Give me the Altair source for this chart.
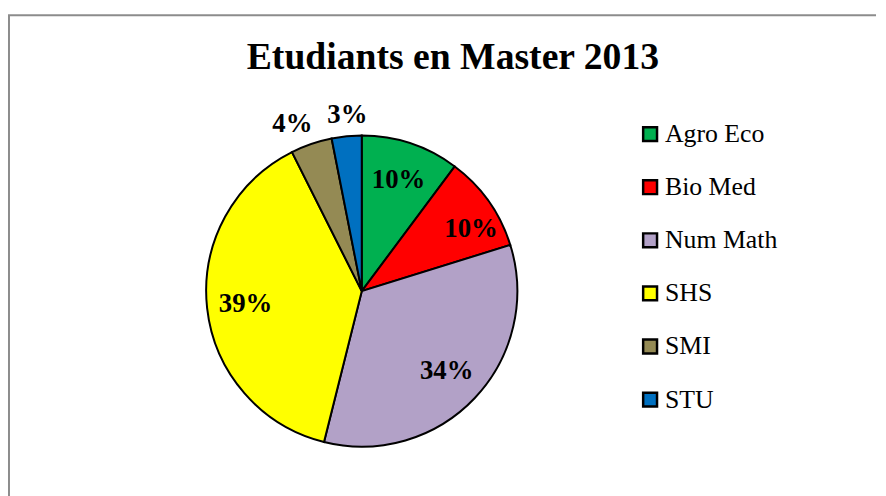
import altair as alt
import pandas as pd

categories = ["Agro Eco", "Bio Med", "Num Math", "SHS", "SMI", "STU"]
shares = [10.2, 10.0, 33.7, 38.7, 4.3, 3.1]
colors = ["#00B050", "#FF0000", "#B2A1C7", "#FFFF00", "#948A54", "#0070C0"]
title_text = "Etudiants en Master 2013"

df = pd.DataFrame({"categorie": categories, "part": shares, "ordre": list(range(len(categories)))})

W, H, PT = 878, 408, 80
CX, CY, R = 357, 203.5, 157
FONT = "Liberation Serif"

base = alt.Chart(df).transform_joinaggregate(
    total="sum(part)"
).transform_calculate(
    pct="round(100 * datum.part / datum.total) + '%'"
).encode(
    theta=alt.Theta("part:Q", stack=True),
    order=alt.Order("ordre:Q"),
)

arcs = base.mark_arc(outerRadius=R, stroke="black", strokeWidth=2).encode(
    color=alt.Color(
        "categorie:N",
        scale=alt.Scale(domain=categories, range=colors),
        sort=categories,
        legend=alt.Legend(
            title=None,
            orient="none",
            legendX=635,
            legendY=32,
            symbolType="square",
            symbolSize=196,
            symbolStrokeColor="black",
            symbolStrokeWidth=2.5,
            labelFont=FONT,
            labelFontSize=26,
            labelColor="black",
            labelOffset=2,
            rowPadding=27.6,
            labelLimit=300,
        ),
    ),
    x=alt.value(CX),
    y=alt.value(CY),
)


def label_layer(cond, radius, dx=0, dy=0):
    return base.transform_calculate(
        lbl=f"({cond}) ? datum.pct : ''"
    ).mark_text(
        radius=radius, dx=dx, dy=dy, font=FONT, fontSize=27, fontWeight="bold", color="black"
    ).encode(text="lbl:N", x=alt.value(CX), y=alt.value(CY))


labels_main = label_layer("datum.part >= 5 && datum.categorie != 'Bio Med'", 118)
labels_bio = label_layer("datum.categorie == 'Bio Med'", 118, dx=14, dy=6)
labels_smi = label_layer("datum.categorie == 'SMI'", 182, dx=-11, dy=4)
labels_stu = label_layer("datum.categorie == 'STU'", 180, dx=3, dy=1)

one = alt.Data(values=[{"k": 1}])
border_top = alt.Chart(one).mark_rule(color="#8c8c8c", strokeWidth=2).encode(
    x=alt.value(0), x2=alt.value(876), y=alt.value(5 - PT)
)
border_left = alt.Chart(one).mark_rule(color="#8c8c8c", strokeWidth=2).encode(
    x=alt.value(1), y=alt.value(5 - PT), y2=alt.value(H + 10)
)

chart = alt.layer(
    border_top, border_left, arcs, labels_main, labels_bio, labels_smi, labels_stu
).properties(
    width=W,
    height=H,
    padding={"top": PT, "left": 0, "right": 0, "bottom": 0},
    autosize=alt.AutoSizeParams(type="none"),
    title=alt.Title(
        title_text,
        font=FONT,
        fontSize=38,
        fontWeight="bold",
        color="black",
        anchor="middle",
        frame="group",
        dx=10,
        dy=63,
        offset=0,
    ),
).configure(font=FONT).configure_view(stroke=None).configure_legend(labelFont=FONT)

chart.save("out.html", embed_options={"renderer": "svg", "actions": False})
